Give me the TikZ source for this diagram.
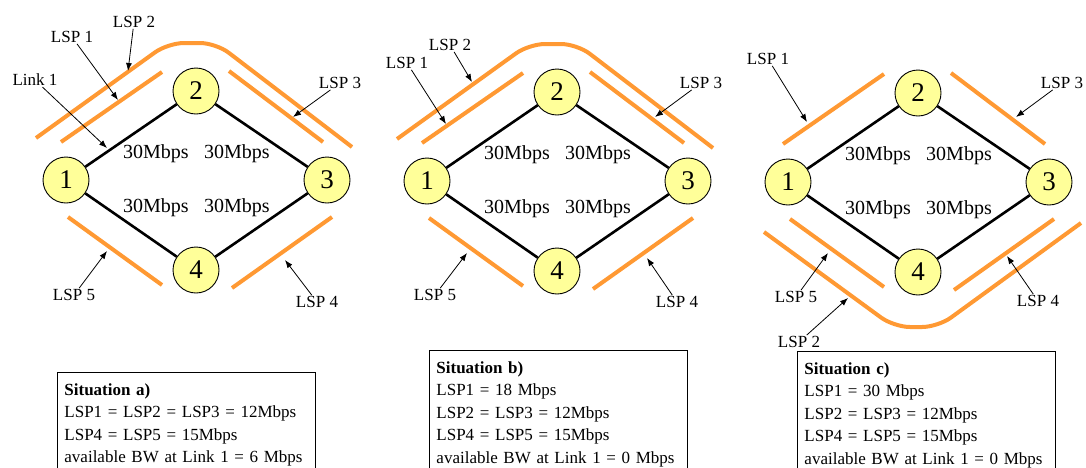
\documentclass[tikz,border=0pt]{standalone}
\usepackage{fontspec}
\setmainfont{Liberation Serif}
\usetikzlibrary{arrows.meta}
\definecolor{lsporange}{RGB}{255,153,51}
\definecolor{routeryellow}{RGB}{255,255,153}
\tikzstyle{router} = [circle, draw=black, line width=0.9pt,
fill=routeryellow,
minimum size=46pt,
inner sep=0pt,
font=\fontsize{27}{30}\selectfont]
\tikzstyle{link} = [line width=2.6pt, black]
\tikzstyle{lsp} = [line width=4pt, lsporange]
\tikzstyle{bw} = [font=\fontsize{20}{24}\selectfont]
\tikzstyle{tag} = [inner sep=1pt, font=\fontsize{17}{20}\selectfont]
\tikzstyle{arrow} = [line width=0.8pt, -{Latex[length=8pt,width=6pt]}]
\tikzstyle{situation} = [rectangle, draw=black, line width=0.9pt,
anchor=north west,
text width=244pt,
inner xsep=7pt, inner ysep=11pt,
align=left,
font=\fontsize{17}{22.5}\selectfont]

\begin{document}
\begin{tikzpicture}[x=1pt, y=-1pt]
        \useasboundingbox (0,0) rectangle (1086,467);
        \clip (0,0) rectangle (1086,467);

        % situation a)
        \begin{scope}
        \draw [lsp] (61,142) -- (162,72);
        \draw [lsp] (229,71) -- (323,142);
        \draw [lsp] (68,217) -- (162,285);
        \draw [lsp] (232,288) -- (332,217);
        \draw [lsp, rounded corners=16pt] (36,138) -- (168,43) -- (216,43) -- (352,147);
        \node (a1) [router] at (66,180) {1};
        \node (a2) [router] at (196,91) {2};
        \node (a3) [router] at (327,180) {3};
        \node (a4) [router] at (196,270) {4};
        \draw [link] (a1) -- (a2);
        \draw [link] (a2) -- (a3);
        \draw [link] (a3) -- (a4);
        \draw [link] (a4) -- (a1);
        \node [bw] at (156,154) {30Mbps};
        \node [bw] at (237,154) {30Mbps};
        \node [bw] at (156,208) {30Mbps};
        \node [bw] at (237,208) {30Mbps};
        \node (linka) [tag] at (35,80) {Link 1};
        \node (lspa1) [tag] at (72,37) {LSP 1};
        \node (lspa2) [tag] at (134,22) {LSP 2};
        \node (lspa3) [tag] at (340,83) {LSP 3};
        \node (lspa4) [tag] at (317,302) {LSP 4};
        \node (lspa5) [tag] at (74,295) {LSP 5};
        \coordinate (pa0) at (107,148);
        \coordinate (pa1) at (118,100);
        \coordinate (pa2) at (128,71);
        \coordinate (pa3) at (293,117);
        \coordinate (pa4) at (285,260);
        \coordinate (pa5) at (107,251);
        \draw [arrow] (linka) -- (pa0);
        \draw [arrow] (lspa1) -- (pa1);
        \draw [arrow] (lspa2) -- (pa2);
        \draw [arrow] (lspa3) -- (pa3);
        \draw [arrow] (lspa4) -- (pa4);
        \draw [arrow] (lspa5) -- (pa5);
        \end{scope}

        % situation b)
        \begin{scope}[shift={(361,1)}]
        \draw [lsp] (61,142) -- (162,72);
        \draw [lsp] (229,71) -- (323,142);
        \draw [lsp] (68,217) -- (162,285);
        \draw [lsp] (232,288) -- (332,217);
        \draw [lsp, rounded corners=16pt] (36,138) -- (168,43) -- (216,43) -- (352,147);
        \node (b1) [router] at (66,180) {1};
        \node (b2) [router] at (196,91) {2};
        \node (b3) [router] at (327,180) {3};
        \node (b4) [router] at (196,270) {4};
        \draw [link] (b1) -- (b2);
        \draw [link] (b2) -- (b3);
        \draw [link] (b3) -- (b4);
        \draw [link] (b4) -- (b1);
        \node [bw] at (156,154) {30Mbps};
        \node [bw] at (237,154) {30Mbps};
        \node [bw] at (156,208) {30Mbps};
        \node [bw] at (237,208) {30Mbps};
        \node (lspb1) [tag] at (46,62) {LSP 1};
        \node (lspb2) [tag] at (89,44) {LSP 2};
        \node (lspb3) [tag] at (340,82) {LSP 3};
        \node (lspb4) [tag] at (316,301) {LSP 4};
        \node (lspb5) [tag] at (74,294) {LSP 5};
        \coordinate (pb1) at (85,123);
        \coordinate (pb2) at (111,81);
        \coordinate (pb3) at (294,116);
        \coordinate (pb4) at (286,257);
        \coordinate (pb5) at (106,252);
        \draw [arrow] (lspb1) -- (pb1);
        \draw [arrow] (lspb2) -- (pb2);
        \draw [arrow] (lspb3) -- (pb3);
        \draw [arrow] (lspb4) -- (pb4);
        \draw [arrow] (lspb5) -- (pb5);
        \end{scope}

        % situation c)
        \begin{scope}[shift={(722,2)}]
        \draw [lsp] (61,142) -- (162,72);
        \draw [lsp] (229,71) -- (323,142);
        \draw [lsp] (68,217) -- (162,285);
        \draw [lsp] (232,288) -- (332,217);
        \draw [lsp, rounded corners=16pt] (42,230) -- (172,325) -- (216,325) -- (359,221);
        \node (c1) [router] at (66,180) {1};
        \node (c2) [router] at (196,91) {2};
        \node (c3) [router] at (327,180) {3};
        \node (c4) [router] at (196,270) {4};
        \draw [link] (c1) -- (c2);
        \draw [link] (c2) -- (c3);
        \draw [link] (c3) -- (c4);
        \draw [link] (c4) -- (c1);
        \node [bw] at (156,154) {30Mbps};
        \node [bw] at (237,154) {30Mbps};
        \node [bw] at (156,208) {30Mbps};
        \node [bw] at (237,208) {30Mbps};
        \node (lspc1) [tag] at (46,57) {LSP 1};
        \node (lspc2) [tag] at (77,340) {LSP 2};
        \node (lspc3) [tag] at (340,81) {LSP 3};
        \node (lspc4) [tag] at (316,299) {LSP 4};
        \node (lspc5) [tag] at (74,295) {LSP 5};
        \coordinate (pc1) at (85,120);
        \coordinate (pc2) at (126,296);
        \coordinate (pc3) at (294,115);
        \coordinate (pc4) at (285,254);
        \coordinate (pc5) at (106,251);
        \draw [arrow] (lspc1) -- (pc1);
        \draw [arrow] (lspc2) -- (pc2);
        \draw [arrow] (lspc3) -- (pc3);
        \draw [arrow] (lspc4) -- (pc4);
        \draw [arrow] (lspc5) -- (pc5);
        \end{scope}

        % bandwidth summaries
        \node (sita) [situation] at (57,372) {\textbf{Situation a)}\\
        LSP1 = LSP2 = LSP3 = 12Mbps\\
        LSP4 = LSP5 = 15Mbps\\
        available BW at Link 1 = 6 Mbps};
        \node (sitb) [situation] at (429,350) {\textbf{Situation b)}\\
        LSP1 = 18 Mbps\\
        LSP2 = LSP3 = 12Mbps\\
        LSP4 = LSP5 = 15Mbps\\
        available BW at Link 1 = 0 Mbps};
        \node (sitc) [situation] at (797,351) {\textbf{Situation c)}\\
        LSP1 = 30 Mbps\\
        LSP2 = LSP3 = 12Mbps\\
        LSP4 = LSP5 = 15Mbps\\
        available BW at Link 1 = 0 Mbps};
    \end{tikzpicture}
\end{document}
